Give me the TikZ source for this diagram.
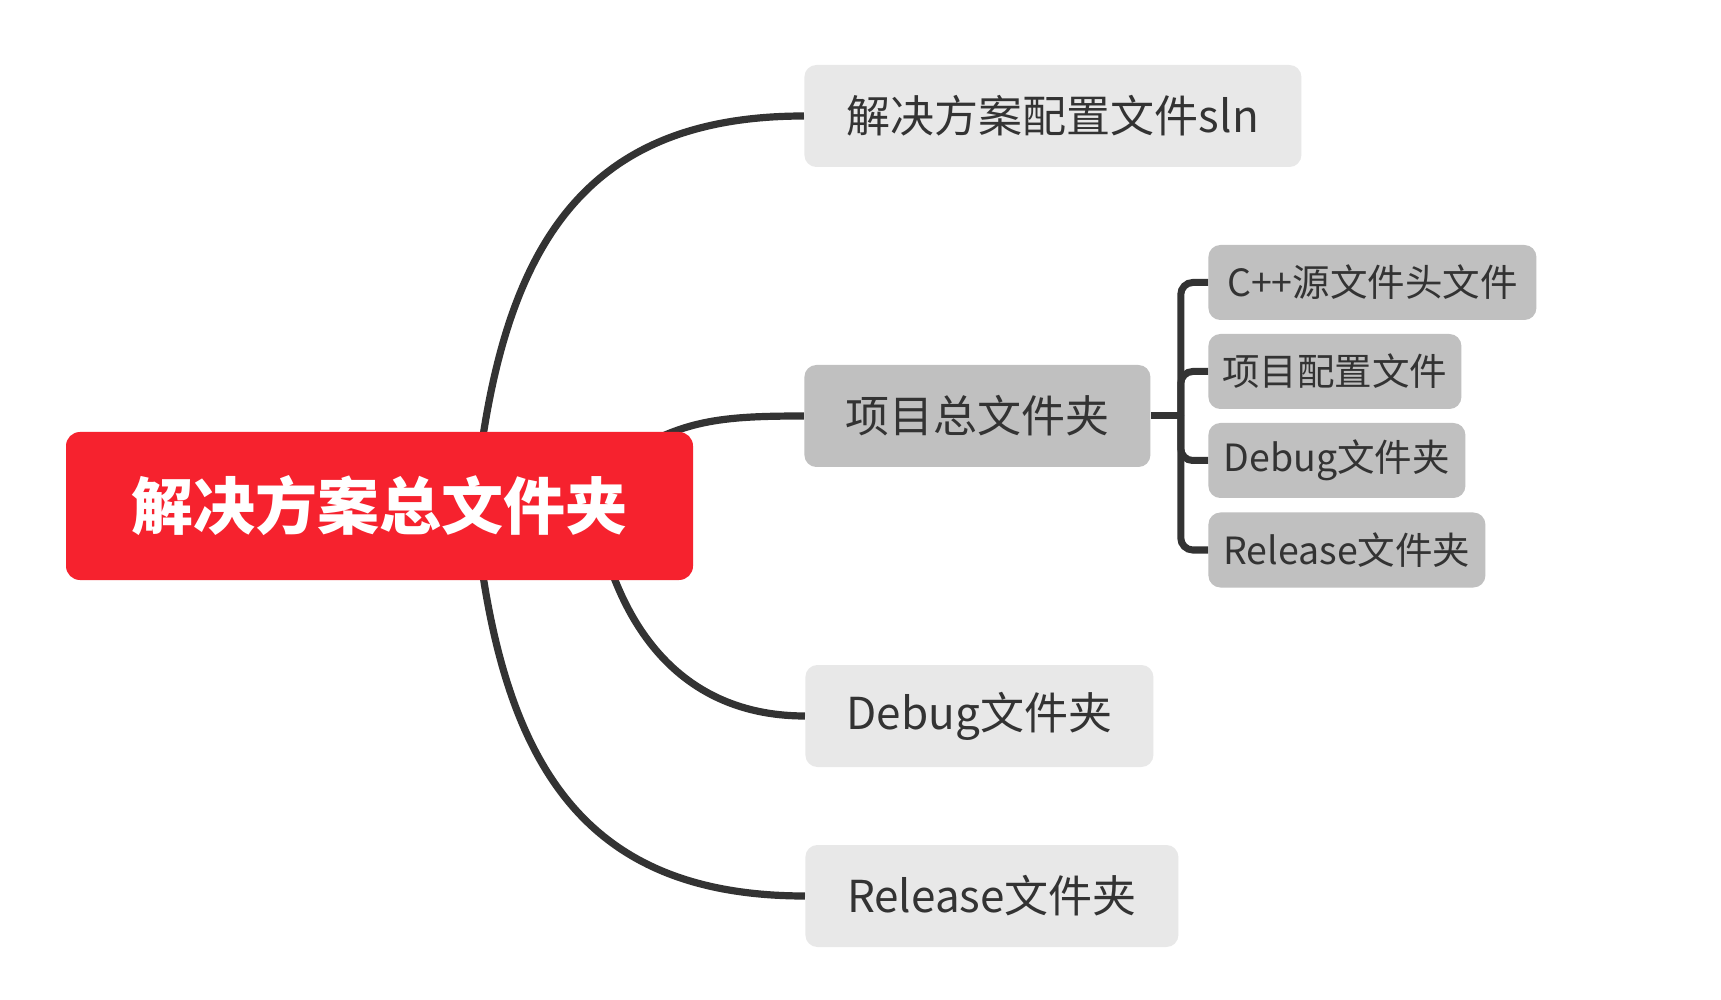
\documentclass[tikz,border=0pt]{standalone}
\usepackage{fontspec}
\setmainfont{Noto Sans CJK SC}
\usetikzlibrary{calc,backgrounds}
\definecolor{rootred}{HTML}{F6222E}
\definecolor{lineg}{HTML}{333333}
\definecolor{boxlight}{HTML}{E8E8E8}
\definecolor{boxmid}{HTML}{C0C0C0}
\definecolor{txt}{HTML}{333333}
\begin{document}
\begin{tikzpicture}[x=0.5pt,y=-0.5pt,
  rootbox/.style={fill=rootred, rounded corners=7pt, text=white,
    font=\fontsize{31}{31}\selectfont\bfseries, minimum width=313.5pt, minimum height=74pt, inner sep=0pt},
  mainbox/.style={fill=boxlight, rounded corners=6pt, text=txt,
    font=\fontsize{22}{22}\selectfont, minimum height=51pt, inner sep=0pt, anchor=west},
  projbox/.style={mainbox, fill=boxmid},
  subbox/.style={fill=boxmid, rounded corners=6pt, text=txt,
    font=\fontsize{18.75}{18.75}\selectfont, minimum height=37.5pt, inner sep=0pt, anchor=west},
  conn/.style={draw=lineg, line width=3.6pt},
  brk/.style={draw=lineg, line width=3.5pt, rounded corners=6pt}
]
\useasboundingbox (0,0) rectangle (1721,1000);

\node[rootbox] (root) at (379.5,506) {解决方案总文件夹};
\node[mainbox, minimum width=248.5pt] (sln) at (804,116) {解决方案配置文件sln};
\node[projbox, minimum width=173pt] (proj) at (804,416) {项目总文件夹};
\node[mainbox, minimum width=174pt] (dbg) at (805,716) {Debug文件夹};
\node[mainbox, minimum width=186.5pt] (rel) at (805,896) {Release文件夹};

\node[subbox, minimum width=164pt] (s1) at (1208,282.5) {C++源文件头文件};
\node[subbox, minimum width=126.5pt] (s2) at (1208,371.5) {项目配置文件};
\node[subbox, minimum width=128.5pt] (s3) at (1208,460.5) {Debug文件夹};
\node[subbox, minimum width=138.5pt] (s4) at (1208,550) {Release文件夹};

\begin{scope}[on background layer]
\fill[white] (0,0) rectangle (1721,1000);
\draw[conn] ([shift={(95.5,-6)}]root.center) .. controls +(25,-250) and +(-224,0) .. (sln.west);
\draw[conn] ([shift={(95.5,6)}]root.center) .. controls +(25,250) and +(-224,0) .. (rel.west);
\draw[conn] ([shift={(240.5,-46)}]root.center) .. controls +(60,-40) and +(-84,0) .. (proj.west);
\draw[conn] ([shift={(215.5,4)}]root.center) .. controls +(25,130) and +(-114,0) .. (dbg.west);
\end{scope}

\draw[brk] (proj.east) -- ++(30,0) coordinate (j);
\draw[brk] (j) |- (s1.west);
\draw[brk] (j) |- (s2.west);
\draw[brk] (j) |- (s3.west);
\draw[brk] (j) |- (s4.west);
\end{tikzpicture}
\end{document}
